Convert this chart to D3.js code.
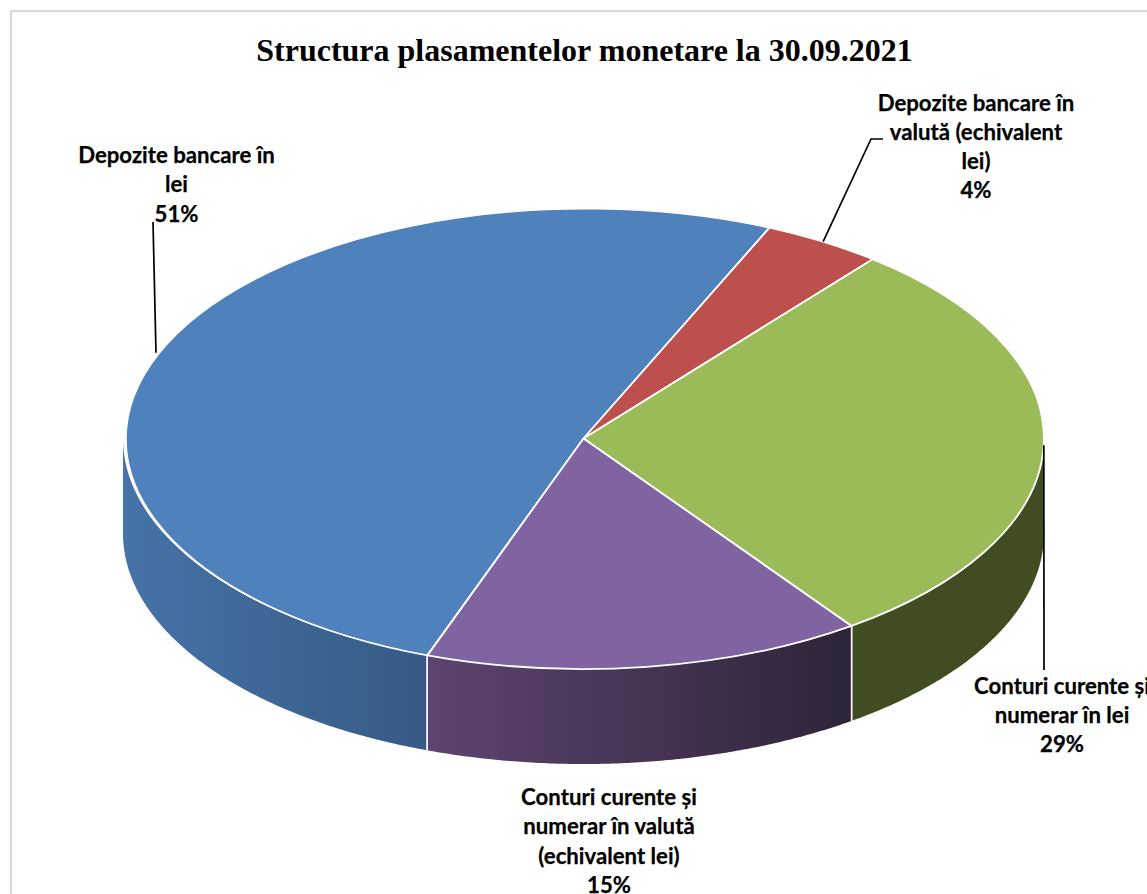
<!DOCTYPE html>
<html>
<head>
<meta charset="utf-8">
<script src="https://cdn.jsdelivr.net/npm/d3@7/dist/d3.min.js"></script>
<style>
html,body{margin:0;padding:0;background:#fff;overflow:hidden}
svg{display:block}
.lbl{font-family:Lato,"Open Sans",sans-serif;font-weight:700;font-size:22.2px;fill:#000;stroke:#000;stroke-width:.25px;text-anchor:middle}
.ttl{font-family:"Liberation Serif",serif;font-weight:700;font-size:32px;fill:#000;text-anchor:middle}
</style>
</head>
<body>
<svg id="c" width="1147" height="894"></svg>
<script>
const chartTitle = "Structura plasamentelor monetare la 30.09.2021";
const categories = ["Depozite bancare în lei","Depozite bancare în valută (echivalent lei)","Conturi curente și numerar în lei","Conturi curente și numerar în valută (echivalent lei)"];
const values = [51.1, 4.2, 29.3, 15.4];
const topColors = ["#4f81bd","#bd4f4c","#9bbb59","#8064a2"];
const sideFrom = ["#4673a8","#7e3432","#404c22","#5e4471"];
const sideTo = ["#365a84","#5e2725","#404c22","#2e2438"];
const labelLines = [["Depozite bancare în","lei"],["Depozite bancare în","valută (echivalent","lei)"],["Conturi curente și","numerar în lei"],["Conturi curente și","numerar în valută","(echivalent lei)"]];

const W=1147,H=894,cx=583.5,cy=438.5,rx=460.5,ry=230.5,depth=95;
const rad=d3.scaleLinear().domain([0,360]).range([0,2*Math.PI]);
const startDeg=23.8;
const svg=d3.select("#c");

svg.append("rect").attr("x",11).attr("y",11).attr("width",W+20).attr("height",H+20)
  .attr("fill","#fff").attr("stroke","#d9d9d9").attr("stroke-width",2.2);

svg.append("text").attr("class","ttl").attr("x",584.5).attr("y",61).text(chartTitle);

// The blue slice ends at the start boundary, so the pie begins one blue slice earlier.
const share=values[0]/d3.sum(values);
const pie=d3.pie().sort(null).value(d=>d)
  .startAngle(rad(startDeg)-2*Math.PI*share)
  .endAngle(rad(startDeg)+2*Math.PI*(1-share));
const arcs=pie(values);

const px=a=>cx+rx*Math.sin(a), py=a=>cy-ry*Math.cos(a);
const defs=svg.append("defs");
const line=d3.line();

// side walls
const lo=Math.PI/2, hi=3*Math.PI/2;
const sideG=svg.append("g");
arcs.forEach((d,i)=>{
  [0,2*Math.PI].forEach(shift=>{
    const a0=Math.max(d.startAngle+shift,lo), a1=Math.min(d.endAngle+shift,hi);
    if(a1<=a0) return;
    const id="side"+i;
    const g=defs.append("linearGradient").attr("id",id).attr("x1",0).attr("x2",1).attr("y1",0).attr("y2",0);
    g.append("stop").attr("offset",0).attr("stop-color",sideFrom[i]);
    g.append("stop").attr("offset",1).attr("stop-color",sideTo[i]);
    const steps=d3.range(0,121).map(k=>a0+(a1-a0)*k/120);
    const pts=steps.map(a=>[px(a),py(a)]).concat(steps.slice().reverse().map(a=>[px(a),py(a)+depth]));
    sideG.append("path").attr("d",line(pts)+"Z").attr("fill",`url(#${id})`);
    [a0,a1].forEach(a=>{
      if(a===lo||a===hi) return;
      sideG.append("line").attr("x1",px(a)).attr("x2",px(a)).attr("y1",py(a)).attr("y2",py(a)+depth)
        .attr("stroke","#fff").attr("stroke-opacity",.9).attr("stroke-width",1.6);
    });
  });
});

// top face
const arc=d3.arc().innerRadius(0).outerRadius(1);
const face=svg.append("g").attr("transform",`translate(${cx},${cy}) scale(${rx},${ry})`);
face.selectAll("path").data(arcs).join("path")
  .attr("d",arc)
  .attr("fill",(d,i)=>topColors[i])
  .attr("stroke","#fff").attr("stroke-width",1.8)
  .attr("stroke-linejoin","round")
  .attr("vector-effect","non-scaling-stroke");

// leader lines, anchored on each slice's rim at its mid angle
const mid=d=>(d.startAngle+d.endAngle)/2;
const leaderEnds=[[[153,222]],[[871,139],[883,139]],[[1044,670]],null];
arcs.forEach((d,i)=>{
  if(!leaderEnds[i]) return;
  const a=mid(d);
  svg.append("path").attr("d",line([[px(a),py(a)]].concat(leaderEnds[i])))
    .attr("fill","none").attr("stroke","#000").attr("stroke-width",1.7);
});

// labels
const labelPos=[[176.5,163],[976,110.5],[1062,693.5],[609,805]];
const lineH=29.3;
arcs.forEach((d,i)=>{
  const lines=labelLines[i].concat([Math.round(values[i])+"%"]);
  const t=svg.append("text").attr("class","lbl");
  lines.forEach((s,k)=>{
    t.append("tspan").attr("x",labelPos[i][0]).attr("y",labelPos[i][1]+k*lineH).text(s);
  });
});
</script>
</body>
</html>
